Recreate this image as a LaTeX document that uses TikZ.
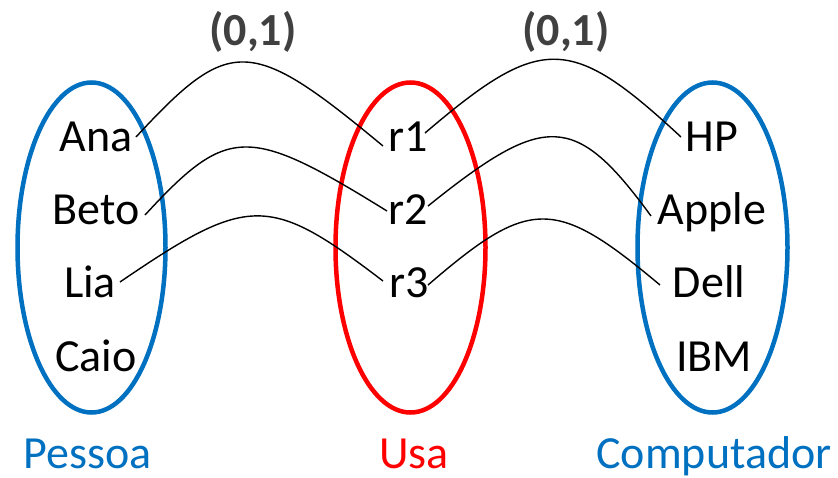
\documentclass[tikz,border=0pt]{standalone}
\usepackage{fontspec}
\setmainfont{Carlito}
\definecolor{setblue}{HTML}{0070C0}
\definecolor{setred}{HTML}{FF0000}
\definecolor{cardgray}{HTML}{404040}
\begin{document}
\begin{tikzpicture}[x=1pt,y=-1pt,
  lbl/.style={anchor=base,inner sep=0pt,font=\fontsize{46}{55}\selectfont},
  card/.style={lbl,font=\fontsize{46}{55}\selectfont\bfseries,text=cardgray},
  setline/.style={line width=4.5pt},
  link/.style={line width=1.4pt,black}]
\useasboundingbox (0,0) rectangle (838,477);
% sets
\draw[setline,setblue] (91.5,247.5) ellipse [x radius=74pt, y radius=165pt];
\draw[setline,setred] (410.5,247.5) ellipse [x radius=75pt, y radius=165pt];
\draw[setline,setblue] (712.5,247.5) ellipse [x radius=75pt, y radius=165pt];
% elements
\node[lbl] (ana) at (96,151) {Ana};
\node[lbl] (beto) at (96,224) {Beto};
\node[lbl] (lia) at (90,297) {Lia};
\node[lbl] (caio) at (96,371) {Caio};
\node[lbl] (r1) at (408,151) {r1};
\node[lbl] (r2) at (408,224) {r2};
\node[lbl] (r3) at (409,297) {r3};
\node[lbl] (hp) at (712,151) {HP};
\node[lbl] (apple) at (712,224) {Apple};
\node[lbl] (dell) at (709,297) {Dell};
\node[lbl] (ibm) at (714,371) {IBM};
% set names
\node[lbl,text=setblue] (pessoa) at (88,468) {Pessoa};
\node[lbl,text=setred] (usa) at (414,468) {Usa};
\node[lbl,text=setblue] (comp) at (714,468) {Computador};
% cardinalities
\node[card] (c1) at (253,45) {(0,1)};
\node[card] (c2) at (566,45) {(0,1)};
% links
\draw[link] ([shift={(40,-14)}]ana.base) .. controls +(94,-101.5) and +(-133,-110.5) .. ([shift={(-25,-5)}]r1.base);
\draw[link] ([shift={(49,-9)}]beto.base) .. controls +(83,-90) and +(-139,-86) .. ([shift={(-21,-13)}]r2.base);
\draw[link] ([shift={(30,-15)}]lia.base) .. controls +(129,-88) and +(-114,-87) .. ([shift={(-26,-16)}]r3.base);
\draw[link] ([shift={(17,-18)}]r1.base) .. controls +(116,-99) and +(-111,-103) .. ([shift={(-31,-14)}]hp.base);
\draw[link] ([shift={(20,-18)}]r2.base) .. controls +(117,-94) and +(-76,-104) .. ([shift={(-61,-8)}]apple.base);
\draw[link] ([shift={(19,-12)}]r3.base) .. controls +(102,-88) and +(-105,-88) .. ([shift={(-49,-12)}]dell.base);
\end{tikzpicture}
\end{document}
